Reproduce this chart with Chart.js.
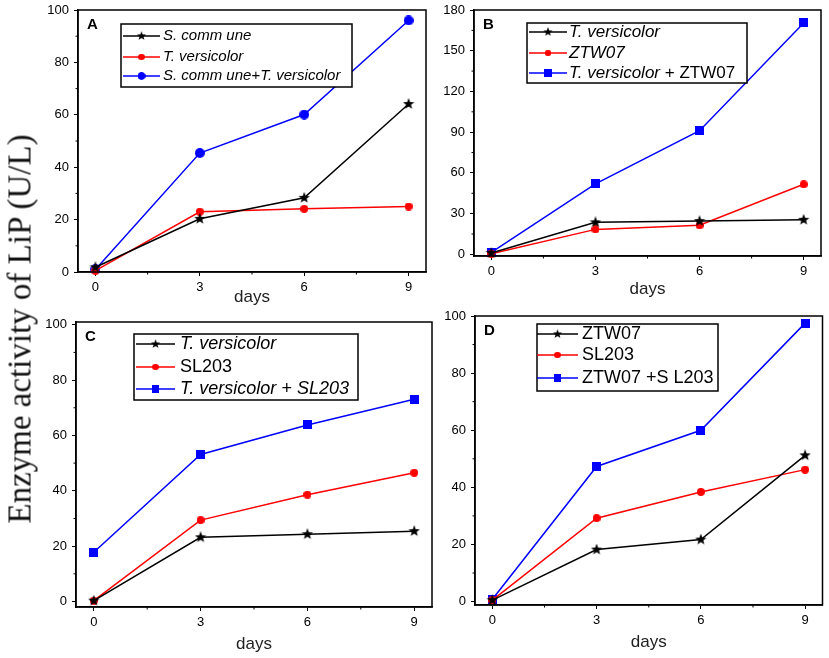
<!DOCTYPE html>
<html>
<head>
<meta charset="utf-8">
<script src="https://cdn.jsdelivr.net/npm/chart.js@4.4.1/dist/chart.umd.min.js"></script>
<style>
  body { margin: 0; background: #fff; }
  #wrap { position: relative; width: 829px; height: 658px; overflow: hidden; }
  #wrap canvas { position: absolute; left: 0; top: 0; }
  #ytitle {
    position: absolute; left: 20px; top: 329px;
    transform: translate(-50%, -50%) rotate(-90deg);
    font: 33px 'Liberation Serif', 'Times New Roman', serif;
    white-space: nowrap; color: #111;
  }
</style>
</head>
<body>
<div id="wrap">
  <canvas id="cA" width="829" height="658"></canvas>
  <canvas id="cB" width="829" height="658"></canvas>
  <canvas id="cC" width="829" height="658"></canvas>
  <canvas id="cD" width="829" height="658"></canvas>
  <div id="ytitle">Enzyme activity of LiP (U/L)</div>
</div>
<script>
// sampling days and axis ticks
const days = [0, 3, 6, 9];
const xTicks = [0, 3, 6, 9];

// Panel A
const aLabels = ['S. comm une', 'T. versicolor', 'S. comm une+T. versicolor'];
const aItalic = ['S. comm une', 'T. versicolor', 'S. comm une+T. versicolor'];
const aScommune = [1.8, 20.3, 28.3, 64.1];
const aTversicolor = [0.5, 23, 24.1, 25];
const aMixed = [1, 45.4, 60.1, 96];
const aYTicks = [0, 20, 40, 60, 80, 100];

// Panel B
const bLabels = ['T. versicolor', 'ZTW07', 'T. versicolor + ZTW07'];
const bItalic = ['T. versicolor', 'ZTW07', 'T. versicolor'];
const bTversicolor = [1, 23.6, 24.5, 25.5];
const bZTW07 = [0.5, 18.4, 21.4, 51.6];
const bMixed = [1.5, 52, 91.1, 170.5];
const bYTicks = [0, 30, 60, 90, 120, 150, 180];

// Panel C
const cLabels = ['T. versicolor', 'SL203', 'T. versicolor + SL203'];
const cItalic = ['T. versicolor', '', 'T. versicolor + SL203'];
const cTversicolor = [0.3, 23.2, 24.3, 25.4];
const cSL203 = [0.3, 29.4, 38.6, 46.5];
const cMixed = [17.8, 53.1, 63.8, 73.1];
const cYTicks = [0, 20, 40, 60, 80, 100];

// Panel D
const dLabels = ['ZTW07', 'SL203', 'ZTW07 +S L203'];
const dItalic = ['', '', ''];
const dZTW07 = [0.5, 18.2, 21.7, 51.2];
const dSL203 = [0.5, 29.2, 38.4, 46.2];
const dMixed = [0.8, 47.3, 60, 97.5];
const dYTicks = [0, 20, 40, 60, 80, 100];

const SANS = "'Liberation Sans', Arial, sans-serif";

// small marker images used as point styles
function marker(shape, color, size) {
  const c = document.createElement('canvas');
  c.width = c.height = size;
  const g = c.getContext('2d');
  const m = size / 2;
  g.fillStyle = color;
  g.beginPath();
  if (shape === 'star') {
    for (let i = 0; i < 10; i++) {
      const r = i % 2 ? m * 0.42 : m;
      const a = -Math.PI / 2 + i * Math.PI / 5;
      g.lineTo(m + r * Math.cos(a), m + r * Math.sin(a));
    }
    g.closePath();
  } else if (shape === 'circle') {
    g.arc(m, m, m, 0, Math.PI * 2);
  } else {
    g.rect(0, 0, size, size);
  }
  g.fill();
  return c;
}

const starBlack = marker('star', '#000', 12);
const dotRed = marker('circle', '#ff0000', 8);
const dotBlue = marker('circle', '#0000ff', 10);
const sqBlue = marker('square', '#0000ff', 9);

const panels = [
  {
    id: 'cA', letter: 'A', area: [78, 10, 426, 272], ymin: 0, ymax: 100, yTicks: aYTicks, xTitleH: 36,
    labels: aLabels, italic: aItalic, values: [aScommune, aTversicolor, aMixed], markers: [starBlack, dotRed, dotBlue],
    legend: { box: [121, 24, 352, 87], rows: [36, 57, 76], line: [123, 160], text: 163, size: 15 }
  },
  {
    id: 'cB', letter: 'B', area: [474, 10, 821, 256], ymin: -1.2, ymax: 180, yTicks: bYTicks, xTitleH: 44,
    labels: bLabels, italic: bItalic, values: [bTversicolor, bZTW07, bMixed], markers: [starBlack, dotRed, sqBlue],
    legend: { box: [527, 23, 747, 83], rows: [32, 53, 73], line: [529, 567], text: 569, size: 17 }
  },
  {
    id: 'cC', letter: 'C', area: [76, 322, 432, 607], ymin: -2, ymax: 101, yTicks: cYTicks, xTitleH: 48,
    labels: cLabels, italic: cItalic, values: [cTversicolor, cSL203, cMixed], markers: [starBlack, dotRed, sqBlue],
    legend: { box: [134, 334, 358, 400], rows: [344, 367, 389], line: [136, 175], text: 180, size: 18 }
  },
  {
    id: 'cD', letter: 'D', area: [475, 316, 824, 605], ymin: -1.2, ymax: 100, yTicks: dYTicks, xTitleH: 48,
    labels: dLabels, italic: dItalic, values: [dZTW07, dSL203, dMixed], markers: [starBlack, dotRed, sqBlue],
    legend: { box: [537, 324, 718, 391], rows: [334, 355, 378], line: [537, 578], text: 582, size: 18 }
  }
];

const colors = ['#000000', '#ff0000', '#0000ff'];

function mids(arr) {
  const out = [];
  for (let i = 0; i < arr.length - 1; i++) out.push((arr[i] + arr[i + 1]) / 2);
  return out;
}

function makeChart(p) {
  const [L, T, R, B] = p.area;
  const yW = 40;

  const decor = {
    id: 'decor',
    afterDraw(chart) {
      const ctx = chart.ctx;
      const a = chart.chartArea;
      const xs = chart.scales.x, ys = chart.scales.y;
      ctx.save();
      // frame
      ctx.strokeStyle = '#000';
      ctx.lineWidth = 1.5;
      ctx.strokeRect(a.left, a.top, a.right - a.left, a.bottom - a.top);
      // minor ticks
      ctx.lineWidth = 1;
      ctx.beginPath();
      mids(xTicks).forEach(v => {
        const px = xs.getPixelForValue(v);
        ctx.moveTo(px, a.bottom);
        ctx.lineTo(px, a.bottom + 2.5);
      });
      mids(p.yTicks).forEach(v => {
        const py = ys.getPixelForValue(v);
        ctx.moveTo(a.left, py);
        ctx.lineTo(a.left - 2.5, py);
      });
      ctx.stroke();
      // panel letter
      ctx.fillStyle = '#000';
      ctx.font = 'bold 15px ' + SANS;
      ctx.textBaseline = 'middle';
      ctx.textAlign = 'left';
      ctx.fillText(p.letter, a.left + 9, a.top + 15);
      // legend box
      const lg = p.legend;
      ctx.fillStyle = '#fff';
      ctx.fillRect(lg.box[0], lg.box[1], lg.box[2] - lg.box[0], lg.box[3] - lg.box[1]);
      ctx.strokeStyle = '#000';
      ctx.lineWidth = 1.5;
      ctx.strokeRect(lg.box[0], lg.box[1], lg.box[2] - lg.box[0], lg.box[3] - lg.box[1]);
      p.labels.forEach((label, i) => {
        const y = lg.rows[i];
        ctx.strokeStyle = colors[i];
        ctx.lineWidth = 1.5;
        ctx.beginPath();
        ctx.moveTo(lg.line[0], y);
        ctx.lineTo(lg.line[1], y);
        ctx.stroke();
        const img = p.markers[i];
        const sz = img.width * 0.8;
        ctx.drawImage(img, (lg.line[0] + lg.line[1]) / 2 - sz / 2, y - sz / 2, sz, sz);
        const it = p.italic[i];
        const rest = label.slice(it.length);
        ctx.fillStyle = '#000';
        ctx.textBaseline = 'middle';
        let x = lg.text;
        if (it) {
          ctx.font = 'italic ' + lg.size + 'px ' + SANS;
          ctx.fillText(it, x, y);
          x += ctx.measureText(it).width;
        }
        if (rest) {
          ctx.font = lg.size + 'px ' + SANS;
          ctx.fillText(rest, x, y);
        }
      });
      ctx.restore();
    }
  };

  return new Chart(document.getElementById(p.id), {
    type: 'line',
    data: {
      datasets: p.values.map((vals, i) => ({
        label: p.labels[i],
        data: days.map((d, j) => ({ x: d, y: vals[j] })),
        borderColor: colors[i],
        backgroundColor: colors[i],
        borderWidth: 1.5,
        pointStyle: p.markers[i],
        pointRadius: 5,
        tension: 0,
        clip: false
      }))
    },
    options: {
      responsive: false,
      animation: false,
      events: [],
      layout: { padding: { left: L - yW, top: T, right: 829 - R, bottom: 658 - B - p.xTitleH } },
      plugins: { legend: { display: false }, tooltip: { enabled: false } },
      scales: {
        x: {
          type: 'linear',
          min: -0.5,
          max: 9.5,
          afterBuildTicks: s => { s.ticks = xTicks.map(v => ({ value: v })); },
          afterFit: s => { s.height = p.xTitleH; s.paddingLeft = 0; s.paddingRight = 0; },
          grid: { drawOnChartArea: false, tickLength: 4, color: '#000', lineWidth: 1 },
          border: { color: '#000', width: 1.5 },
          ticks: { color: '#000', padding: 4, maxRotation: 0, font: { family: SANS, size: 13 } },
          title: { display: true, text: 'days', color: '#222', padding: 0, font: { family: SANS, size: 17 } }
        },
        y: {
          type: 'linear',
          min: p.ymin,
          max: p.ymax,
          afterBuildTicks: s => { s.ticks = p.yTicks.map(v => ({ value: v })); },
          afterFit: s => { s.width = yW; s.paddingTop = 0; s.paddingBottom = 0; },
          grid: { drawOnChartArea: false, tickLength: 4, color: '#000', lineWidth: 1 },
          border: { color: '#000', width: 1.5 },
          ticks: { color: '#000', padding: 5, font: { family: SANS, size: 13 } }
        }
      }
    },
    plugins: [decor]
  });
}

panels.forEach(makeChart);
</script>
</body>
</html>
